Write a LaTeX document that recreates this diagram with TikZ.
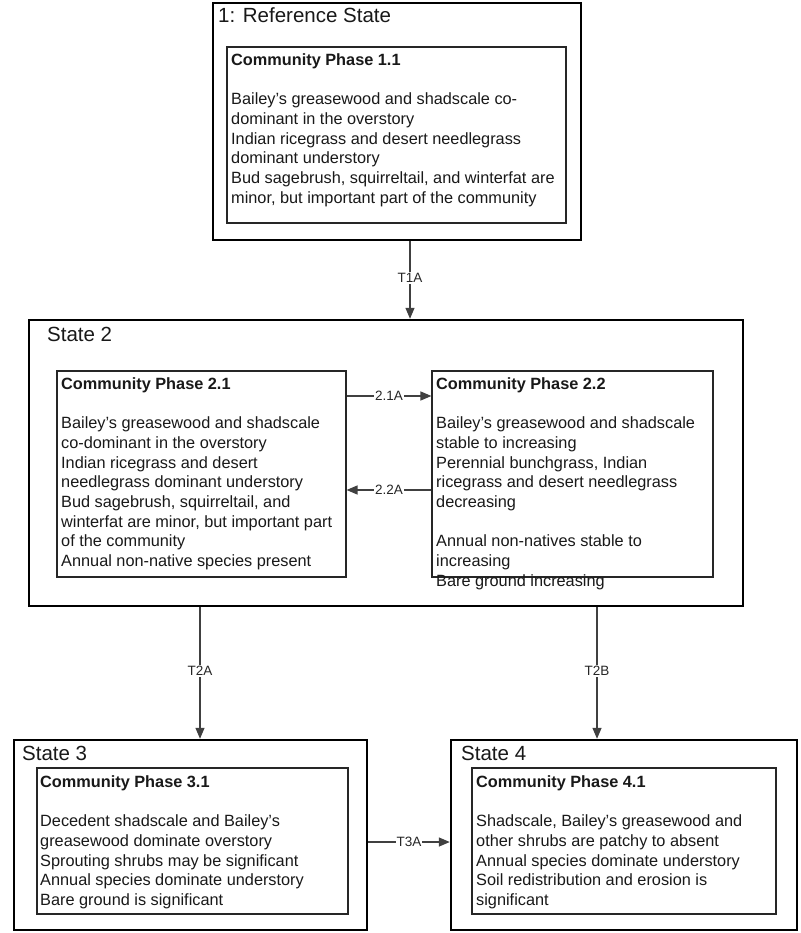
\documentclass[tikz,border=0pt]{standalone}
\usepackage{fontspec}
\setmainfont{Liberation Sans}
\usetikzlibrary{arrows.meta}
\begin{document}
\begin{tikzpicture}[x=1pt,y=-1pt,
  statebox/.style={draw=black,line width=2.4pt,inner sep=0pt,fill=white},
  phasebox/.style={draw=black!85,line width=1.1pt,inner sep=0pt},
  body/.style={anchor=north west,inner sep=0pt,align=left,text=black!90,font=\fontsize{16.3}{19.7}\selectfont},
  ttl/.style={anchor=base west,inner sep=0pt,text=black!90,font=\fontsize{20.5}{24}\selectfont},
  conn/.style={draw=black!75,line width=1.3pt,-{Triangle[length=11pt,width=9pt]}},
  lbl/.style={fill=white,inner sep=1pt,text=black!85,font=\fontsize{13.5}{15}\selectfont}]
\useasboundingbox (0,0) rectangle (800,933);

% state boxes
\node[statebox,minimum width=368pt,minimum height=237pt] (s1) at (397,121.5) {};
\node[statebox,minimum width=714pt,minimum height=286pt] (s2) at (386,463) {};
\node[statebox,minimum width=353pt,minimum height=190pt] (s3) at (190.5,835) {};
\node[statebox,minimum width=346pt,minimum height=190pt] (s4) at (624,835) {};

% phase boxes
\node[phasebox,minimum width=339pt,minimum height=176pt] (p11) at (396.5,135) {};
\node[phasebox,minimum width=289pt,minimum height=206pt] (p21) at (201.5,474) {};
\node[phasebox,minimum width=281pt,minimum height=206pt] (p22) at (572.5,474) {};
\node[phasebox,minimum width=311pt,minimum height=146pt] (p31) at (192.5,841) {};
\node[phasebox,minimum width=304pt,minimum height=146pt] (p41) at (624,841) {};

% titles
\node[ttl] (t1) at (218,23) {1: Reference State};
\node[ttl] (t2) at (47,341) {State 2};
\node[ttl] (t3) at (22,760) {State 3};
\node[ttl] (t4) at (461,760) {State 4};

% texts
\node[body] (x11) at (231,53.2) {\textbf{Community Phase 1.1}\\[19.7pt]
Bailey’s greasewood and shadscale co-\\
dominant in the overstory\\
Indian ricegrass and desert needlegrass\\
dominant understory\\
Bud sagebrush, squirreltail, and winterfat are\\
minor, but important part of the community};

\node[body] (x21) at (61,377.2) {\textbf{Community Phase 2.1}\\[19.7pt]
Bailey’s greasewood and shadscale\\
co-dominant in the overstory\\
Indian ricegrass and desert\\
needlegrass dominant understory\\
Bud sagebrush, squirreltail, and\\
winterfat are minor, but important part\\
of the community\\
Annual non-native species present};

\node[body] (x22) at (436,377.2) {\textbf{Community Phase 2.2}\\[19.7pt]
Bailey’s greasewood and shadscale\\
stable to increasing\\
Perennial bunchgrass, Indian\\
ricegrass and desert needlegrass\\
decreasing\\[19.7pt]
Annual non-natives stable to\\
increasing\\
Bare ground increasing};

\node[body] (x31) at (40,775.2) {\textbf{Community Phase 3.1}\\[19.7pt]
Decedent shadscale and Bailey’s\\
greasewood dominate overstory\\
Sprouting shrubs may be significant\\
Annual species dominate understory\\
Bare ground is significant};

\node[body] (x41) at (476,775.2) {\textbf{Community Phase 4.1}\\[19.7pt]
Shadscale, Bailey’s greasewood and\\
other shrubs are patchy to absent\\
Annual species dominate understory\\
Soil redistribution and erosion is\\
significant};

% connector guides
\coordinate (cT1A) at (410,0);
\coordinate (cA) at (0,396);
\coordinate (cB) at (0,490);
\coordinate (cT2A) at (200,0);
\coordinate (cT2B) at (597,0);
\coordinate (cT3A) at (0,842);

% connectors
\draw[conn] (s1.south -| cT1A) -- node[lbl,pos=0.475] (l1) {T1A} (s2.north -| cT1A);
\draw[conn] (p21.east |- cA) -- node[lbl] (l2) {2.1A} (p22.west |- cA);
\draw[conn] (p22.west |- cB) -- node[lbl] (l3) {2.2A} (p21.east |- cB);
\draw[conn] (s2.south -| cT2A) -- node[lbl,pos=0.485] (l4) {T2A} (s3.north -| cT2A);
\draw[conn] (s2.south -| cT2B) -- node[lbl,pos=0.485] (l5) {T2B} (s4.north -| cT2B);
\draw[conn] (s3.east |- cT3A) -- node[lbl] (l6) {T3A} (s4.west |- cT3A);
\end{tikzpicture}
\end{document}
